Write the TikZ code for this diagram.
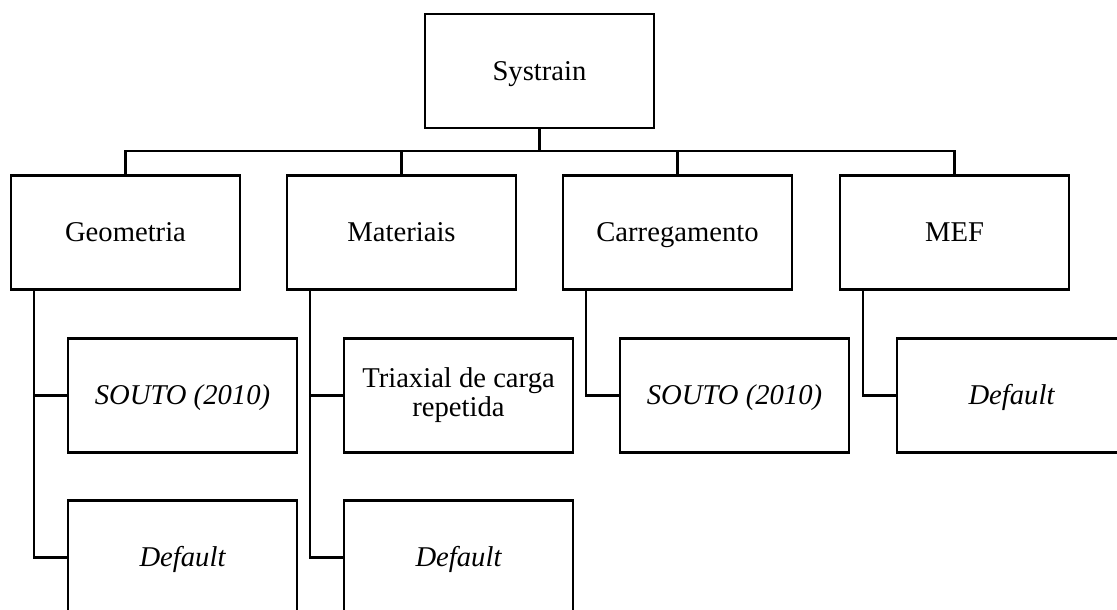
\documentclass[tikz,border=0pt]{standalone}
\usepackage{fontspec}
\setmainfont{Liberation Serif}
\usetikzlibrary{positioning}

\begin{document}
\begin{tikzpicture}[
  box/.style={draw, rectangle, minimum width=4.58cm, minimum height=2.28cm,
              inner sep=0pt, outer sep=0pt, align=center,
              text height=13pt, text depth=2.2pt,
              font=\fontsize{16.3}{16.5}\selectfont},
  leaf/.style={box, font=\fontsize{16.3}{16.5}\selectfont\itshape},
  line width=1.3pt
]
  \useasboundingbox (0,0) rectangle (22.34,-12.18);
  \clip (0,0) rectangle (22.34,-12.18);

  % top level
  \node[box] (sys) at (10.79,-1.42) {Systrain};

  % modules
  \node[box] (geo) at (2.51,-4.65) {Geometria};
  \node[box, right=0.94cm of geo] (mat) {Materiais};
  \node[box, right=0.94cm of mat] (car) {Carregamento};
  \node[box, right=0.96cm of car] (mef) {MEF};

  % options
  \node[leaf, below=0.98cm of geo, xshift=1.14cm] (geoA) {SOUTO (2010)};
  \node[leaf, below=0.96cm of geoA] (geoB) {Default};
  \node[box, text height=, text depth=, below=0.98cm of mat, xshift=1.14cm]
       (matA) {Triaxial de carga\\repetida};
  \node[leaf, below=0.96cm of matA] (matB) {Default};
  \node[leaf, below=0.98cm of car, xshift=1.14cm] (carA) {SOUTO (2010)};
  \node[leaf, below=0.98cm of mef, xshift=1.14cm] (mefA) {Default};

  \coordinate (bus) at ([yshift=-0.46cm]sys.south);
  \draw (sys.south) -- (bus);
  \draw (geo.north) |- (bus) -| (mef.north);
  \draw (mat.north) -- (mat.north |- bus);
  \draw (car.north) -- (car.north |- bus);

  \coordinate (geoT) at ([xshift=0.46cm]geo.south west);
  \coordinate (matT) at ([xshift=0.46cm]mat.south west);
  \coordinate (carT) at ([xshift=0.46cm]car.south west);
  \coordinate (mefT) at ([xshift=0.46cm]mef.south west);
  \draw (geoT) |- (geoA.west);
  \draw (geoT) |- (geoB.west);
  \draw (matT) |- (matA.west);
  \draw (matT) |- (matB.west);
  \draw (carT) |- (carA.west);
  \draw (mefT) |- (mefA.west);
\end{tikzpicture}
\end{document}
